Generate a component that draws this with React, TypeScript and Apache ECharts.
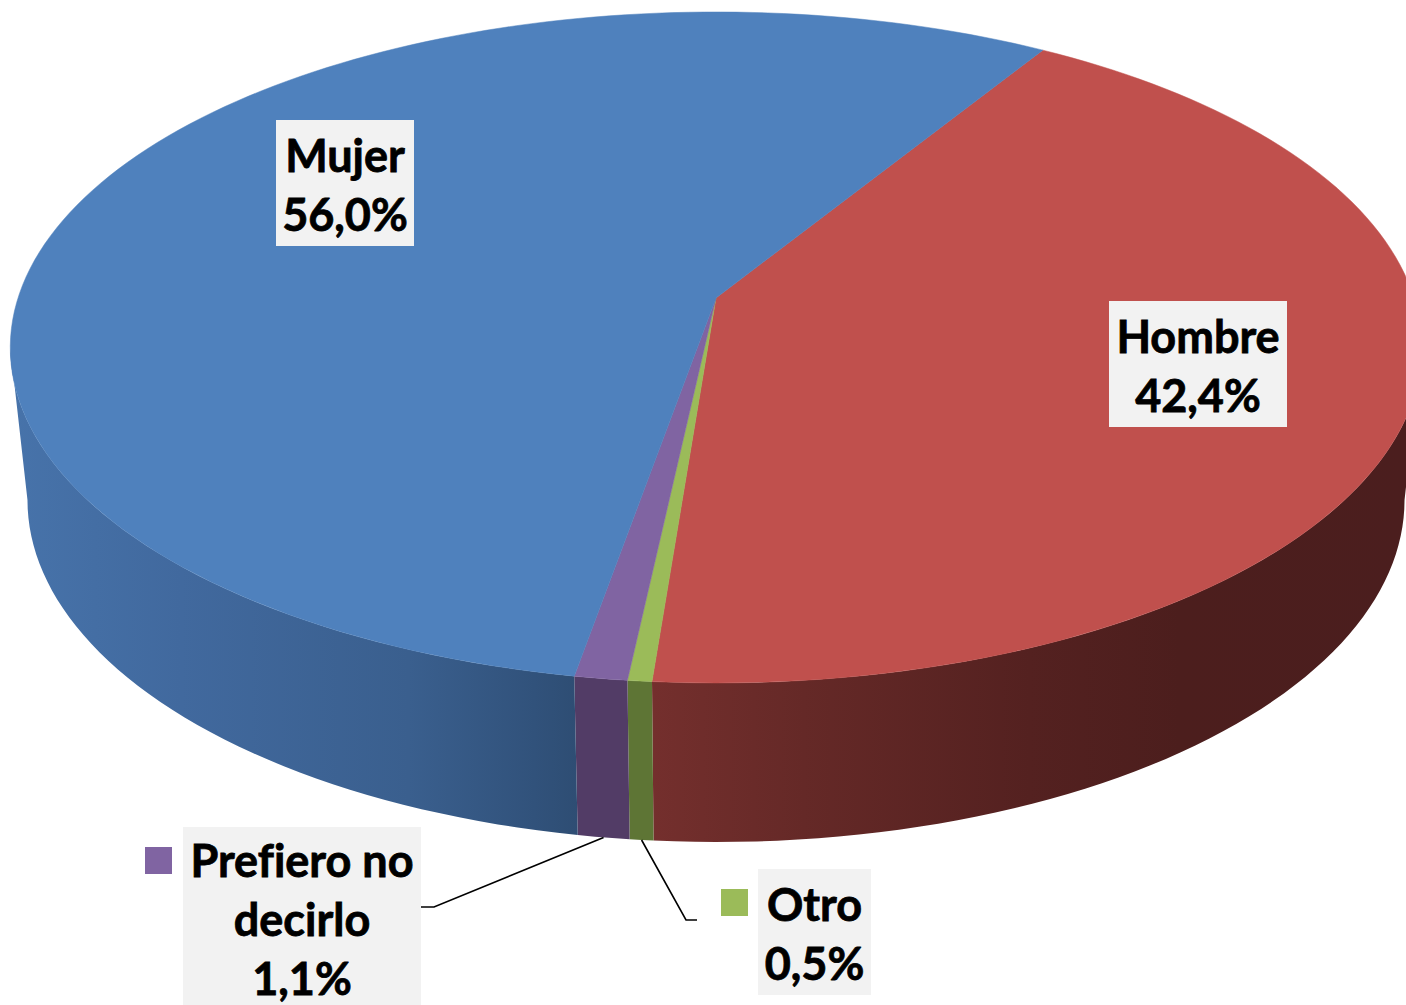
import React, { useEffect, useRef } from "react";
import * as echarts from "echarts";

// Data, clockwise from the Hombre / Mujer boundary
const categories = ["Hombre", "Otro", "Prefiero no decirlo", "Mujer"];
const labelLines = [["Hombre"], ["Otro"], ["Prefiero no", "decirlo"], ["Mujer"]];
const values = [42.4, 0.48, 1.05, 56.04];

// Styles
const topColors = ["#c0504d", "#9bbb59", "#8064a2", "#4f81bd"];
const sideStops: [number, string][][] = [
  [[0, "#742f2d"], [0.2, "#652927"], [0.5, "#542120"], [0.7, "#4c1e1d"], [1, "#4b1e1e"]],
  [[0, "#5e7535"], [1, "#5e7535"]],
  [[0, "#523c66"], [1, "#523c66"]],
  [[0, "#4773aa"], [0.3, "#41699e"], [0.7, "#3a5f8e"], [0.92, "#31527b"], [1, "#2e4d73"]],
];
const sideRange: [number, number][] = [[653, 1406], [628, 655], [576, 630], [10, 580]];

// Layout of the perspective disc
const START_DEG = 31.8;
const TILT = -0.1475;
const TOP = { x: 716, y: 298, a: 698, b: 328.2 };
const BOTTOM = { x: 716, y: 449.5, a: 681, b: 334.6 };
const SIDE_FROM = 98.5;
const SIDE_TO = 261.5;

// Annotation layout
const boxes = [
  { x: 1109, y: 301, w: 178, h: 126 },
  { x: 758, y: 869, w: 113, h: 126 },
  { x: 183, y: 827, w: 238, h: 178 },
  { x: 276, y: 120, w: 138, h: 126 },
];
const keys = [null, { x: 721, y: 889 }, { x: 145, y: 847 }, null];
const leaders = [
  null,
  [[686, 920], [697, 920]],
  [[434, 907], [421, 907]],
  null,
];

const total = values.reduce((s, v) => s + v, 0);
const project = (disc: typeof TOP, deg: number): number[] => {
  const r = (deg * Math.PI) / 180;
  const u = Math.sin(r);
  const v = -Math.cos(r);
  const d = 1 + TILT * v;
  return [disc.x + (disc.a * u) / d, disc.y + (disc.b * v) / d];
};
const sliceAngles = (i: number, value: number) => {
  let before = 0;
  for (let k = 0; k < i; k++) before += values[k];
  const a0 = START_DEG + (before / total) * 360;
  return [a0, a0 + (value / total) * 360];
};
const arc = (disc: typeof TOP, a0: number, a1: number): number[][] => {
  const n = Math.max(2, Math.ceil((a1 - a0) / 1.5));
  const pts: number[][] = [];
  for (let j = 0; j <= n; j++) pts.push(project(disc, a0 + ((a1 - a0) * j) / n));
  return pts;
};

const data = values.map((v, i) => ({ name: categories[i], value: [v] }));

const renderSide = (params: any, api: any) => {
  const i = params.dataIndex;
  const [a0, a1] = sliceAngles(i, api.value(0));
  const from = Math.max(a0, SIDE_FROM);
  const to = Math.min(a1, SIDE_TO);
  const points = [...arc(TOP, from, to), ...arc(BOTTOM, from, to).reverse()];
  const fill = new echarts.graphic.LinearGradient(
    sideRange[i][0], 0, sideRange[i][1], 0,
    sideStops[i].map(([offset, color]) => ({ offset, color })),
    true
  );
  return { type: "polygon", shape: { points }, style: { fill, stroke: "none" } };
};

const renderTop = (params: any, api: any) => {
  const i = params.dataIndex;
  const [a0, a1] = sliceAngles(i, api.value(0));
  const points = [[TOP.x, TOP.y], ...arc(TOP, a0, a1)];
  return {
    type: "polygon",
    shape: { points },
    style: { fill: topColors[i], stroke: topColors[i], lineWidth: 0.5 },
  };
};

const renderLabel = (params: any, api: any) => {
  const i = params.dataIndex;
  const value = api.value(0);
  const [a0, a1] = sliceAngles(i, value);
  const box = boxes[i];
  const lines = [...labelLines[i], value.toFixed(1).replace(".", ",") + "%"];
  const children: any[] = [];
  const leader = leaders[i];
  if (leader) {
    const anchor = project(BOTTOM, (a0 + a1) / 2);
    children.push({
      type: "polyline",
      shape: { points: [anchor, ...leader] },
      style: { fill: "none", stroke: "#000", lineWidth: 1.6 },
    });
  }
  const key = keys[i];
  if (key) {
    children.push({
      type: "rect",
      shape: { x: key.x, y: key.y, width: 27, height: 27 },
      style: { fill: topColors[i] },
    });
  }
  children.push({
    type: "rect",
    shape: { x: box.x, y: box.y, width: box.w, height: box.h },
    style: { fill: "#f2f2f2" },
  });
  children.push({
    type: "text",
    style: {
      text: lines.join("\n"),
      x: box.x + box.w / 2,
      y: box.y + box.h / 2 + 1.5 + (lines.length - 2),
      align: "center",
      verticalAlign: "middle",
      fill: "#000",
      stroke: "#000",
      lineWidth: 0.8,
      font: "bold 45px Lato, sans-serif",
      lineHeight: 59,
    },
  });
  return { type: "group", children };
};

export default function App() {
  const ref = useRef<HTMLDivElement>(null);
  useEffect(() => {
    document.body.style.margin = "0";
    const chart = echarts.init(ref.current!, undefined, { renderer: "svg" });
    chart.setOption({
      animation: false,
      backgroundColor: "#ffffff",
      series: [
        { type: "custom", coordinateSystem: "none", z: 1, data, renderItem: renderSide, silent: true },
        { type: "custom", coordinateSystem: "none", z: 2, data, renderItem: renderTop, silent: true },
        { type: "custom", coordinateSystem: "none", z: 3, data, renderItem: renderLabel, silent: true },
      ],
    });
    return () => chart.dispose();
  }, []);
  return (
    <>
      <style>{"svg text { font-variant-ligatures: none !important; }"}</style>
      <div ref={ref} style={{ width: 1406, height: 1005 }} />
    </>
  );
}
